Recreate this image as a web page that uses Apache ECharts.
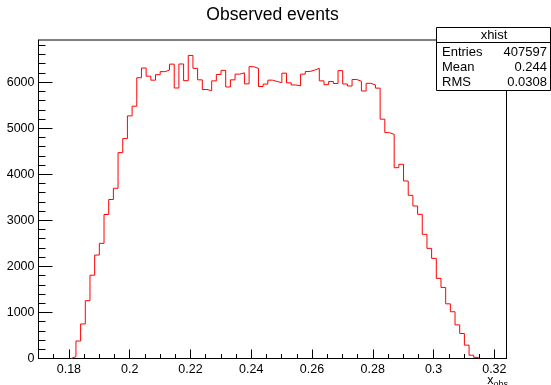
<!DOCTYPE html>
<html>
<head>
<meta charset="utf-8">
<script src="https://cdn.jsdelivr.net/npm/echarts@6/dist/echarts.min.js"></script>
<style>
  html, body { margin: 0; padding: 0; background: #fff; }
  #chart { width: 551px; height: 385px; }
</style>
</head>
<body>
<div id="chart"></div>
<script>
// histogram: 100 bins between xLow and xHigh
const xLow = 0.17;
const xHigh = 0.324;
const nBins = 100;

// bin contents (bins 0..99)
const binCounts = [
  0, 0, 0, 0, 0, 0, 0, 40, 380, 750,
  1255, 1808, 2246, 2500, 3126, 3452, 3696, 4470, 4774, 5267,
  5478, 6096, 6307, 6130, 6043, 6162, 6228, 6261, 6391, 5873,
  6394, 6032, 6580, 6300, 6050, 5840, 5815, 6028, 6165, 6256,
  5895, 6050, 6174, 6202, 5963, 6336, 6297, 5905, 5957, 6043,
  6014, 5988, 6195, 5985, 5938, 5920, 6174, 6232, 6260, 6300,
  6028, 5945, 6014, 5970, 6250, 5960, 5916, 6058, 6021, 5808,
  5974, 5941, 5870, 5196, 4904, 4866, 4143, 4217, 3854, 3543,
  3311, 3130, 2696, 2391, 2174, 1739, 1543, 1187, 1015, 730,
  543, 290, 72, 25, 0, 0, 0, 0, 0, 0
];

const xTickLabels = [0.18, 0.2, 0.22, 0.24, 0.26, 0.28, 0.3, 0.32];
const yTickLabels = [0, 1000, 2000, 3000, 4000, 5000, 6000];
const yMax = 6915;

const statTitle = "xhist";
const statNames = ["Entries", "Mean", "RMS"];
const statValues = ["407597", "0.244", "0.0308"];

// minor tick positions
const xMinor = [];
for (let i = 35; i <= 64; i++) xMinor.push(i * 5 / 1000);
const yMinor = [];
for (let v = 0; v <= 6800; v += 200) yMinor.push(v);

// outline of the histogram as a step line (skip empty bins on the edges)
const binW = (xHigh - xLow) / nBins;
const edge = i => xLow + i * binW;
let first = binCounts.findIndex(v => v > 0);
let last = binCounts.length - 1;
while (binCounts[last] === 0) last--;
const outline = [[edge(first), 0]];
for (let i = first; i <= last; i++) outline.push([edge(i + 1), binCounts[i]]);
outline.push([edge(last + 1), 0]);

const FONT = "Liberation Sans, Arial, Helvetica, sans-serif";
const fmtX = v => String(parseFloat((+v).toFixed(3)));

const chart = echarts.init(document.getElementById("chart"), null, { renderer: "canvas" });

const statGraphics = [
  { type: "rect", shape: { x: 436.5, y: 27.5, width: 114, height: 63 },
    style: { fill: "#fff", stroke: "#000", lineWidth: 1 }, z: 100 },
  { type: "line", shape: { x1: 436.5, y1: 42.5, x2: 550.5, y2: 42.5 },
    style: { stroke: "#000", lineWidth: 1 }, z: 101 },
  { type: "text", x: 494, y: 35, z: 101,
    style: { text: statTitle, font: "13px " + FONT, fill: "#000", textAlign: "center", textVerticalAlign: "middle" } }
];
statNames.forEach((name, k) => {
  statGraphics.push({ type: "text", x: 442, y: 52 + k * 15.3, z: 101,
    style: { text: name, font: "13px " + FONT, fill: "#000", textAlign: "left", textVerticalAlign: "middle" } });
  statGraphics.push({ type: "text", x: 547, y: 52 + k * 15.3, z: 101,
    style: { text: statValues[k], font: "13px " + FONT, fill: "#000", textAlign: "right", textVerticalAlign: "middle" } });
});

const option = {
  animation: false,
  backgroundColor: "#fff",
  textStyle: { fontFamily: FONT },
  grid: {
    left: 38.5, right: 44.5, top: 40, bottom: 26.5,
    show: true, borderColor: "#000", borderWidth: 1, backgroundColor: "transparent"
  },
  xAxis: [
    {
      // minor ticks
      type: "value", min: xLow, max: xHigh, position: "bottom",
      axisLine: { show: true, lineStyle: { color: "#000", width: 1 } },
      axisTick: { show: true, inside: true, length: 4.5, customValues: xMinor, lineStyle: { color: "#000" } },
      axisLabel: { show: false },
      splitLine: { show: false }
    },
    {
      // major ticks + labels
      type: "value", min: xLow, max: xHigh, position: "bottom",
      axisLine: { show: false },
      axisTick: { show: true, inside: true, length: 9, customValues: xTickLabels, lineStyle: { color: "#000" } },
      axisLabel: { show: true, customValues: xTickLabels, formatter: fmtX, color: "#000",
        fontSize: 12.5, fontFamily: FONT, margin: 5, showMinLabel: true, showMaxLabel: true },
      splitLine: { show: false }
    }
  ],
  yAxis: [
    {
      // minor ticks
      type: "value", min: 0, max: yMax, position: "left",
      axisLine: { show: true, lineStyle: { color: "#000", width: 1 } },
      axisTick: { show: true, inside: true, length: 7, customValues: yMinor, lineStyle: { color: "#000" } },
      axisLabel: { show: false },
      splitLine: { show: false }
    },
    {
      // major ticks + labels
      type: "value", min: 0, max: yMax, position: "left",
      axisLine: { show: false },
      axisTick: { show: true, inside: true, length: 14, customValues: yTickLabels, lineStyle: { color: "#000" } },
      axisLabel: { show: true, customValues: yTickLabels, formatter: v => String(v), color: "#000",
        fontSize: 12.5, fontFamily: FONT, margin: 4 },
      splitLine: { show: false }
    }
  ],
  series: [
    {
      type: "line",
      step: "start",
      data: outline,
      xAxisIndex: 0,
      yAxisIndex: 0,
      symbol: "none",
      lineStyle: { color: "#ff0000", width: 1 },
      z: 5
    }
  ],
  graphic: [
    { type: "text", x: 272.5, y: 15, z: 50,
      style: { text: "Observed events", font: "17.5px " + FONT, fill: "#000", textAlign: "center", textVerticalAlign: "middle" } },
    { type: "text", x: 508, y: 372, z: 50,
      style: {
        text: "{x|x}{s|obs}", textAlign: "right", textVerticalAlign: "top",
        rich: {
          x: { font: "12.5px " + FONT, fill: "#000" },
          s: { font: "9px " + FONT, fill: "#000", padding: [8, 0, 0, 0] }
        }
      } },
    ...statGraphics
  ]
};

chart.setOption(option);
</script>
</body>
</html>
